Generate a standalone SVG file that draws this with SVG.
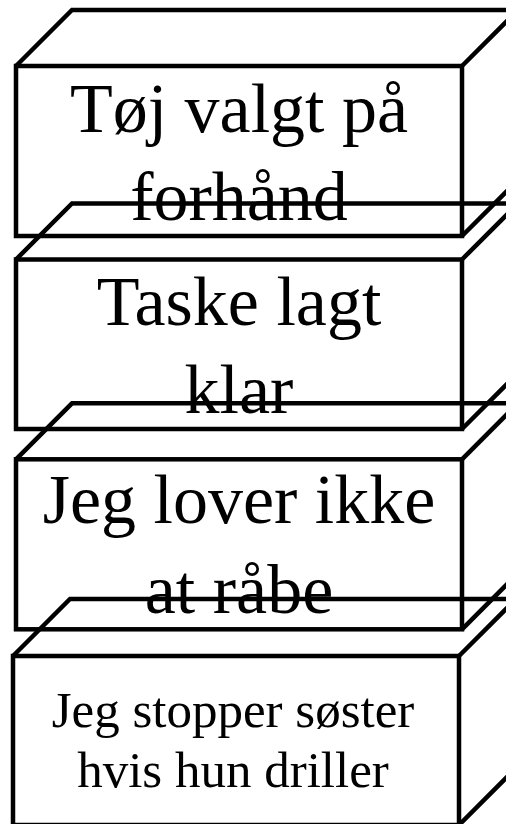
<svg xmlns="http://www.w3.org/2000/svg" width="506" height="824" viewBox="0 0 506 824">
  <style>
    .edge { fill: none; stroke: #000; stroke-width: 4.5; stroke-linejoin: miter; }
    .big { font-family: "Liberation Serif", "DejaVu Serif", serif; font-size: 70px; fill: #000; text-anchor: middle; }
    .small { font-family: "Liberation Serif", "DejaVu Serif", serif; font-size: 51px; fill: #000; text-anchor: middle; }
  </style>
  <rect width="506" height="824" fill="#fff"/>
  <g id="box1">
    <rect class="edge" x="16" y="66" width="446" height="170"/>
    <path class="edge" d="M16,66 L72,10 L518,10 L462,66 M518,10 L518,180 L462,236"/>
    <text class="big" x="239" y="132">Tøj valgt på</text>
    <text class="big" x="239" y="220">forhånd</text>
  </g>
  <g id="box2">
    <rect class="edge" x="16" y="259.5" width="446" height="169.5"/>
    <path class="edge" d="M16,259.5 L72,203.5 L518,203.5 L462,259.5 M518,203.5 L518,373 L462,429"/>
    <text class="big" x="239" y="325">Taske lagt</text>
    <text class="big" x="239" y="413">klar</text>
  </g>
  <g id="box3">
    <rect class="edge" x="16" y="459.3" width="446" height="170"/>
    <path class="edge" d="M16,459.3 L72,403.3 L518,403.3 L462,459.3 M518,403.3 L518,573.3 L462,629.3"/>
    <text class="big" x="239" y="523">Jeg lover ikke</text>
    <text class="big" x="239" y="613">at råbe</text>
  </g>
  <g id="box4">
    <rect class="edge" x="13" y="656" width="446" height="169"/>
    <path class="edge" d="M13,656 L70,599 L516,599 L459,656 M516,599 L516,768 L459,825"/>
    <text class="small" x="233" y="727">Jeg stopper søster</text>
    <text class="small" x="233" y="787">hvis hun driller</text>
  </g>
  <g id="connectors"/>
</svg>
